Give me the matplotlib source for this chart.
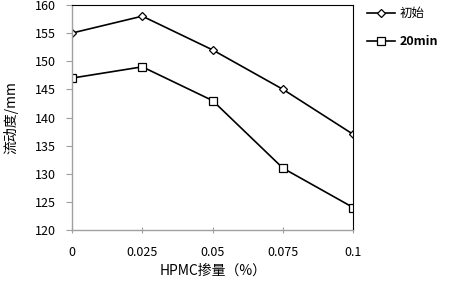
import matplotlib
matplotlib.use("Agg")
import matplotlib.pyplot as plt

plt.rcParams['font.family'] = ['Noto Sans CJK SC', 'DejaVu Sans']

x_labels = ["0", "0.025", "0.05", "0.075", "0.1"]
x_vals = [0, 0.025, 0.05, 0.075, 0.1]
initial = [155, 158, 152, 145, 137]
after_20 = [147, 149, 143, 131, 124]

fig = plt.figure(figsize=(4.72, 2.88), dpi=100)
ax = fig.add_axes([0.1525, 0.201, 0.596, 0.782])

ax.plot(x_vals, initial, color="black", lw=1.2, marker="D", ms=4,
        mfc="white", mec="black", mew=0.9, label="初始")
ax.plot(x_vals, after_20, color="black", lw=1.2, marker="s", ms=6,
        mfc="white", mec="black", mew=0.9, label="20min")

ax.set_xlim(0, 0.1)
ax.set_ylim(120, 160)
ax.set_xticks(x_vals)
ax.set_xticklabels(x_labels)
ax.set_yticks(range(120, 161, 5))
ax.tick_params(axis="both", labelsize=9, colors="black")
ax.tick_params(axis="y", direction="out", length=4.5, color="#a0a0a0", pad=7)
ax.tick_params(axis="x", direction="inout", length=5, color="#a0a0a0", pad=9)

for s in ["left", "bottom"]:
    ax.spines[s].set_color("#a0a0a0")
    ax.spines[s].set_linewidth(1.0)
for s in ["top", "right"]:
    ax.spines[s].set_color("black")
    ax.spines[s].set_linewidth(0.8)

ax.set_ylabel("流动度/mm", fontsize=10, labelpad=12)
ax.set_xlabel("HPMC掺量（%）", fontsize=10, labelpad=3)

leg = ax.legend(loc="upper left", bbox_to_anchor=(1.01, 1.04), frameon=False,
                fontsize=9, handlelength=2.2, labelspacing=1.2, handletextpad=0.4)
leg.get_texts()[1].set_fontweight("bold")

fig.savefig("out.png", dpi=100)
